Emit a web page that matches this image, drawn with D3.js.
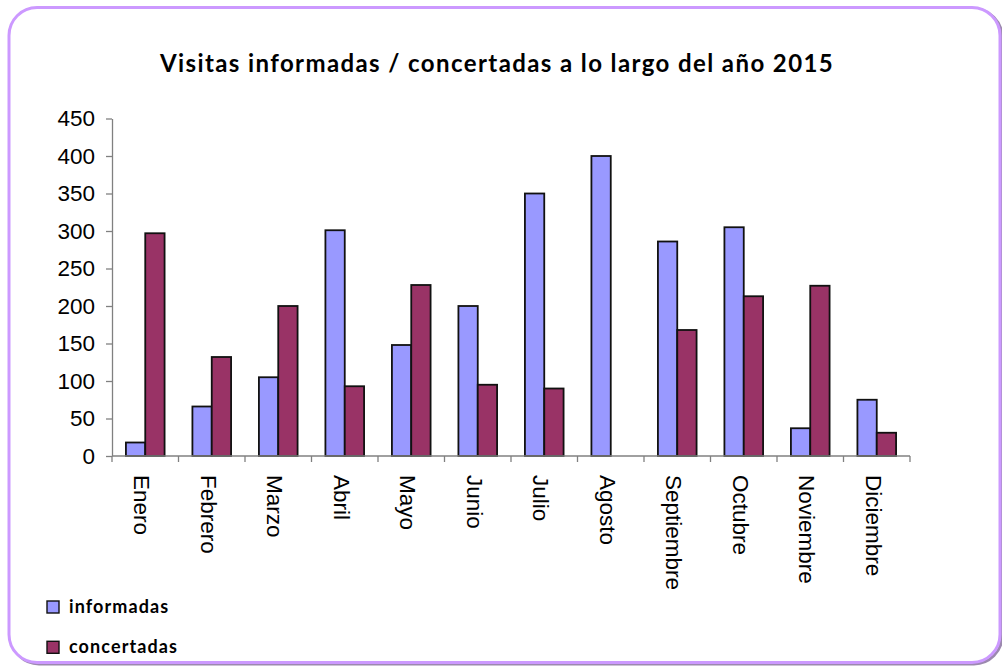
<!DOCTYPE html>
<html>
<head>
<meta charset="utf-8">
<script src="https://cdn.jsdelivr.net/npm/d3@7"></script>
<style>
  body { margin: 0; background: #fff; }
  svg { display: block; }
</style>
</head>
<body>
<div id="chart"></div>
<script>
// values
const months = ["Enero", "Febrero", "Marzo", "Abril", "Mayo", "Junio", "Julio",
  "Agosto", "Septiembre", "Octubre", "Noviembre", "Diciembre"];
const informadas = [18, 66, 105, 301, 148, 200, 350, 400, 286, 305, 37, 75];
const concertadas = [297, 132, 200, 93, 228, 95, 90, 0, 168, 213, 227, 31];
const yTicks = [0, 50, 100, 150, 200, 250, 300, 350, 400, 450];
const seriesNames = ["informadas", "concertadas"];
const colors = ["#9999ff", "#993366"];

const width = 1002, height = 666;
const plotLeft = 112, plotRight = 910, plotTop = 118.5, plotBottom = 456;

const svg = d3.select("#chart").append("svg")
  .attr("width", width)
  .attr("height", height);

// rounded frame
svg.append("rect")
  .attr("x", 11).attr("y", 9)
  .attr("width", 991).attr("height", 655)
  .attr("rx", 28)
  .attr("fill", "none")
  .attr("stroke", "#5a3a7a")
  .attr("stroke-width", 3)
  .attr("opacity", 0.6);
svg.append("rect")
  .attr("x", 9).attr("y", 7.5)
  .attr("width", 991).attr("height", 655)
  .attr("rx", 28)
  .attr("fill", "#fff")
  .attr("stroke", "#cc99ff")
  .attr("stroke-width", 3);

svg.append("text")
  .attr("x", 497)
  .attr("y", 72)
  .attr("text-anchor", "middle")
  .style("font-family", "Lato, 'Open Sans', sans-serif")
  .style("font-weight", "bold")
  .style("font-size", "24px")
  .style("letter-spacing", "1.4px")
  .attr("fill", "#000")
  .text("Visitas informadas / concertadas a lo largo del año 2015");

const x = d3.scaleBand()
  .domain(months)
  .range([plotLeft, plotRight]);

const x1 = d3.scaleBand()
  .domain(seriesNames)
  .range([0, x.bandwidth()])
  .paddingInner(0)
  .paddingOuter(0.72);

const y = d3.scaleLinear()
  .domain([0, 450])
  .range([plotBottom, plotTop]);

const data = months.map((m, i) => ({ month: m, values: [informadas[i], concertadas[i]] }));

// bars
const groups = svg.append("g").selectAll("g")
  .data(data)
  .join("g")
  .attr("transform", d => "translate(" + x(d.month) + ",0)");

groups.selectAll("rect")
  .data(d => d.values.map((v, k) => ({ key: seriesNames[k], value: v, k: k })).filter(b => b.value > 0))
  .join("rect")
  .attr("x", d => x1(d.key))
  .attr("y", d => y(d.value))
  .attr("width", x1.bandwidth())
  .attr("height", d => y(0) - y(d.value))
  .attr("fill", d => colors[d.k])
  .attr("stroke", "#111")
  .attr("stroke-width", 1.8);

// y axis
const yAxis = svg.append("g")
  .attr("transform", "translate(" + plotLeft + ",0)")
  .call(d3.axisLeft(y).tickValues(yTicks).tickSize(6).tickSizeOuter(0).tickPadding(11));
yAxis.select(".domain").attr("stroke", "#808080").attr("stroke-width", 1.3);
yAxis.selectAll(".tick line").attr("stroke", "#808080").attr("stroke-width", 1.3);
yAxis.selectAll(".tick text")
  .style("font-family", "'Liberation Sans', Arial, sans-serif")
  .style("font-size", "22.5px")
  .attr("fill", "#000");

// x axis
const xAxis = svg.append("g")
  .attr("transform", "translate(0," + plotBottom + ")");
xAxis.append("line")
  .attr("x1", plotLeft).attr("x2", plotRight)
  .attr("y1", 0).attr("y2", 0)
  .attr("stroke", "#808080").attr("stroke-width", 1.3);
xAxis.selectAll(".xt")
  .data(months.concat(["end"]))
  .join("line")
  .attr("class", "xt")
  .attr("x1", (d, i) => i < months.length ? x(d) : plotRight)
  .attr("x2", (d, i) => i < months.length ? x(d) : plotRight)
  .attr("y1", 0).attr("y2", 6)
  .attr("stroke", "#808080").attr("stroke-width", 1.3);
xAxis.selectAll(".xl")
  .data(months)
  .join("text")
  .attr("class", "xl")
  .attr("transform", d => "translate(" + (x(d) + x.bandwidth() / 2 - 3) + ",19) rotate(90)")
  .attr("dy", "0.35em")
  .attr("text-anchor", "start")
  .style("font-family", "'Liberation Sans', Arial, sans-serif")
  .style("font-size", "22.5px")
  .attr("fill", "#000")
  .text(d => d);

// legend
const legend = svg.append("g").selectAll("g")
  .data(seriesNames)
  .join("g")
  .attr("transform", (d, i) => "translate(47," + (601 + i * 40.3) + ")");
legend.append("rect")
  .attr("width", 12).attr("height", 12)
  .attr("fill", (d, i) => colors[i])
  .attr("stroke", "#111")
  .attr("stroke-width", 1.4);
legend.append("text")
  .attr("x", 22)
  .attr("y", 11.5)
  .style("font-family", "Lato, 'Open Sans', sans-serif")
  .style("font-weight", "bold")
  .style("font-size", "18px")
  .style("letter-spacing", "1.1px")
  .attr("fill", "#000")
  .text(d => d);
</script>
</body>
</html>
